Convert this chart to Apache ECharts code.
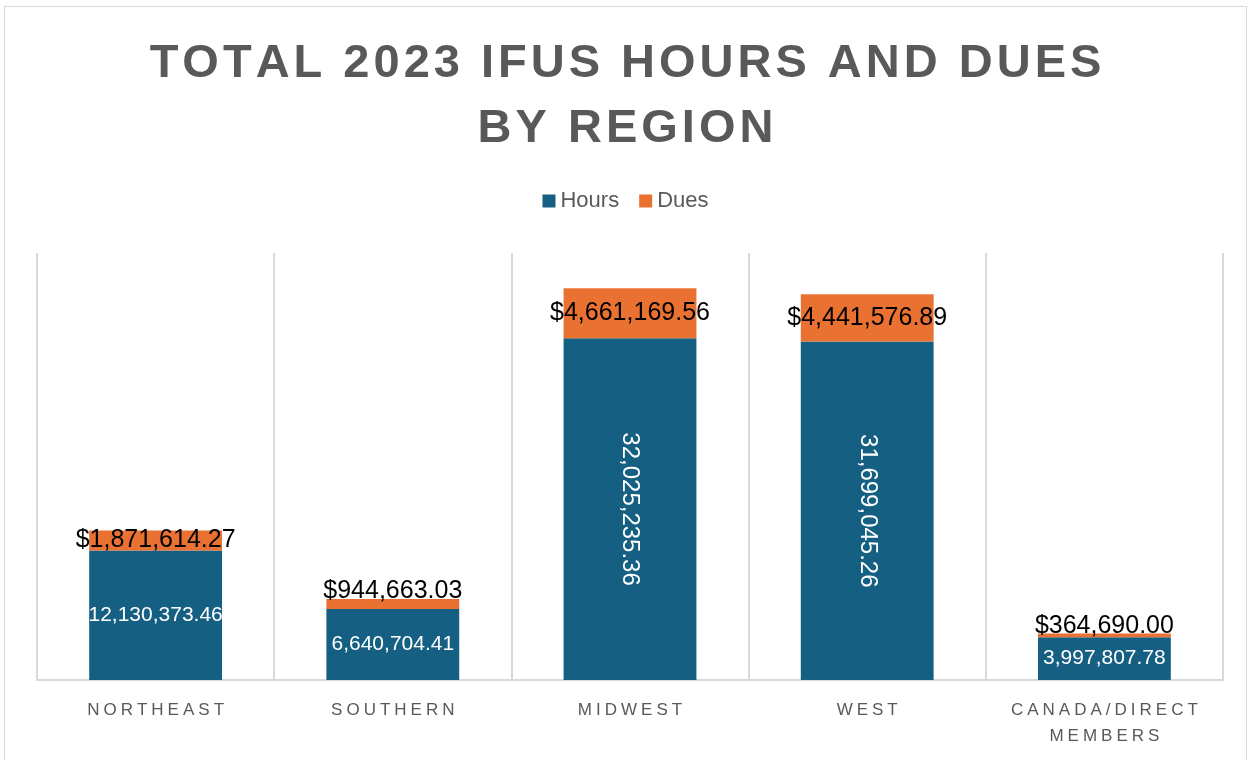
<!DOCTYPE html>
<html lang="en">
<head>
    <meta charset="UTF-8">
    <title>IFUS hours and dues</title>
    <script src="https://cdn.jsdelivr.net/npm/echarts@6/dist/echarts.min.js"></script>
    <style>
        html, body { margin: 0; padding: 0; background: #fff; }
        #main { position: absolute; left: 4px; top: 6px; width: 1243px; height: 760px; border: 1px solid #d9d9d9; box-sizing: border-box; }
    </style>
</head>
<body>
<div id="main"></div>
<script type="text/javascript">
    var regions = ['NORTHEAST', 'SOUTHERN', 'MIDWEST', 'WEST', 'CANADA/DIRECT\nMEMBERS'];
    var hours = [12130373.46, 6640704.41, 32025235.36, 31699045.26, 3997807.78];
    var dues = [1871614.27, 944663.03, 4661169.56, 4441576.89, 364690.00];
    var titleText = 'TOTAL 2023 IFUS HOURS AND DUES\nBY REGION';

    function fmt(v) {
        return v.toLocaleString('en-US', { minimumFractionDigits: 2, maximumFractionDigits: 2 });
    }

    // letter spacing: wrap every character in a padded rich fragment
    function spaced(str, style) {
        return str.split('\n').map(function (line) {
            return line.split('').map(function (ch) {
                return '{' + style + '|' + ch + '}';
            }).join('');
        }).join('\n');
    }

    var myChart = echarts.init(document.getElementById('main'));

    var hoursData = hours.map(function (v) {
        var tall = v > 20000000;
        return {
            value: v,
            label: tall ? { rotate: -90, fontSize: 24 } : { rotate: 0 }
        };
    });
    var duesData = dues.map(function (v) {
        return {
            value: v,
            label: v < 1000000 ? { position: 'top', distance: -5 } : { position: 'inside' }
        };
    });

    var option = {
        animation: false,
        title: {
            text: spaced(titleText, 't'),
            left: 'center',
            top: 20,
            textStyle: {
                rich: {
                    t: {
                        fontFamily: 'Liberation Sans',
                        fontWeight: 'bold',
                        fontSize: 47,
                        color: '#595959',
                        lineHeight: 65,
                        padding: [0, 2]
                    }
                }
            }
        },
        legend: {
            data: ['Hours', 'Dues'],
            top: 178,
            left: 'center',
            icon: 'rect',
            itemWidth: 13,
            itemHeight: 13,
            itemGap: 20,
            textStyle: { fontFamily: 'Liberation Sans', fontSize: 22, color: '#595959' }
        },
        grid: { left: 32, right: 23, top: 246, bottom: 85 },
        xAxis: {
            type: 'category',
            data: regions,
            axisLine: { lineStyle: { color: '#d9d9d9', width: 2 } },
            axisTick: { show: false },
            splitLine: { show: true, interval: 0, lineStyle: { color: '#d9d9d9', width: 2 } },
            axisLabel: {
                interval: 0,
                margin: 17,
                formatter: function (v) { return spaced(v, 'a'); },
                rich: {
                    a: {
                        fontFamily: 'Liberation Sans',
                        fontSize: 17,
                        color: '#595959',
                        lineHeight: 26,
                        padding: [0, 2]
                    }
                }
            }
        },
        yAxis: {
            type: 'value',
            min: 0,
            max: 40000000,
            show: false,
            splitLine: { show: false }
        },
        series: [
            {
                name: 'Hours',
                type: 'bar',
                stack: 'total',
                barWidth: '56%',
                data: hoursData,
                itemStyle: { color: '#156082' },
                label: {
                    show: true,
                    position: 'inside',
                    color: '#ffffff',
                    fontFamily: 'Liberation Sans',
                    fontSize: 21,
                    formatter: function (p) { return fmt(p.value); }
                }
            },
            {
                name: 'Dues',
                type: 'bar',
                stack: 'total',
                data: duesData,
                itemStyle: { color: '#E97132' },
                label: {
                    show: true,
                    color: '#000000',
                    fontFamily: 'Liberation Sans',
                    fontSize: 25,
                    formatter: function (p) { return '$' + fmt(p.value); }
                }
            }
        ]
    };
    myChart.setOption(option);
</script>
</body>
</html>
